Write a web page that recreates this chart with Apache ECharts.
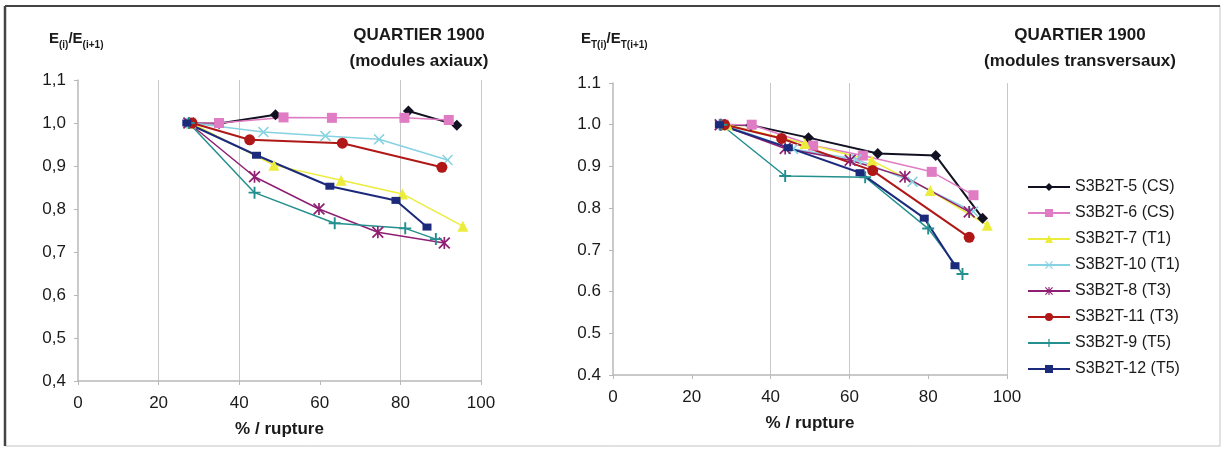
<!DOCTYPE html>
<html>
<head>
<meta charset="utf-8">
<script src="https://cdn.jsdelivr.net/npm/echarts@6/dist/echarts.min.js"></script>
<style>
  html, body { margin: 0; padding: 0; background: #fff; }
  #chart { width: 1223px; height: 449px; }
</style>
</head>
<body>
<div id="chart"></div>
<script>
// legend names, in Excel order
const names = ['S3B2T-5 (CS)', 'S3B2T-6 (CS)', 'S3B2T-7 (T1)', 'S3B2T-10 (T1)',
  'S3B2T-8 (T3)', 'S3B2T-11 (T3)', 'S3B2T-9 (T5)', 'S3B2T-12 (T5)'];
const xTicks = [0, 20, 40, 60, 80, 100];

// axial moduli (left), [% rupture, ratio]
const ax5 = [[28, 1.0], [35, 0.999], [49, 1.019], ['-', '-'], [82, 1.028], [94, 0.995]];
const ax6 = [[28, 1.0], [35, 1.0], [51, 1.013], [63, 1.012], [81, 1.012], [92, 1.007]];
const ax7 = [[28, 1.0], [48.6, 0.902], [65.3, 0.867], [80.5, 0.835], [95.5, 0.76]];
const ax10 = [[28, 1.0], [46, 0.979], [61.4, 0.97], [74.7, 0.962], [91.7, 0.914]];
const ax8 = [[27.5, 1.0], [43.8, 0.875], [59.8, 0.8], [74.4, 0.746], [90.9, 0.721]];
const ax11 = [[28.3, 1.0], [42.6, 0.961], [65.6, 0.953], [90.3, 0.897]];
const ax9 = [[27.5, 1.0], [43.8, 0.838], [63.7, 0.767], [81.2, 0.755], [88.8, 0.73]];
const ax12 = [[27, 1.0], [44.3, 0.925], [62.5, 0.853], [78.9, 0.82], [86.6, 0.758]];

// transverse moduli (right)
const tr5 = [[28, 1.0], [35, 0.999], [49.6, 0.969], [67.2, 0.931], [81.9, 0.926], [93.8, 0.776]];
const tr6 = [[28, 1.0], [35.2, 1.0], [50.8, 0.95], [63.4, 0.926], [80.9, 0.887], [91.5, 0.831]];
const tr7 = [[29, 1.0], [48.7, 0.955], [65.7, 0.914], [80.5, 0.842], [95, 0.759]];
const tr10 = [[28, 1.0], [45.7, 0.942], [61.8, 0.917], [76, 0.863], [91.4, 0.792]];
const tr8 = [[27.2, 1.0], [43.7, 0.943], [60.2, 0.915], [74.1, 0.875], [90.4, 0.791]];
const tr11 = [[28.3, 1.0], [42.8, 0.967], [65.9, 0.89], [90.4, 0.73]];
const tr9 = [[27.5, 1.0], [43.7, 0.877], [64, 0.874], [80, 0.751], [88.7, 0.642]];
const tr12 = [[27, 1.0], [44.5, 0.945], [62.7, 0.885], [79, 0.776], [86.8, 0.662]];

const axial = [ax5, ax6, ax7, ax10, ax8, ax11, ax9, ax12];
const transverse = [tr5, tr6, tr7, tr10, tr8, tr11, tr9, tr12];

const colors = ['#111122', '#e07cc4', '#ecec3c', '#86d2e2', '#8e1f72', '#b01818', '#23908f', '#1c2a7c'];
const xPath = 'path://M1,0L5,4L9,0L10,1L6,5L10,9L9,10L5,6L1,10L0,9L4,5L0,1Z';
const plusPath = 'path://M4.2,0H5.8V4.2H10V5.8H5.8V10H4.2V5.8H0V4.2H4.2Z';
const starPath = 'path://M1,0L5,4L9,0L10,1L6,5L10,9L9,10L5,6L1,10L0,9L4,5L0,1Z M4.3,0H5.7V10H4.3Z';
const symbols = ['diamond', 'rect', 'triangle', xPath, starPath, 'circle', plusPath, 'rect'];
const sizes = [11, 10, 11, 11, 12, 11, 12, [9, 7]];
const widths = [2, 1.5, 1.5, 1.5, 1.5, 2, 1.5, 2];

const font = '"Liberation Sans", Arial, sans-serif';
const txt = '#1a1a1a';
const grid = '#c8c8c8';

function makeSeries(list, idx) {
  return list.map((d, i) => ({
    name: names[i],
    type: 'line',
    xAxisIndex: idx,
    yAxisIndex: idx,
    data: d,
    symbol: symbols[i],
    symbolSize: sizes[i],
    showSymbol: true,
    connectNulls: false,
    animation: false,
    lineStyle: { color: colors[i], width: widths[i] },
    itemStyle: { color: colors[i], borderWidth: 0 },
    emphasis: { disabled: true }
  }));
}

function xAxis(idx, lineColors) {
  return {
    gridIndex: idx, type: 'value', min: 0, max: 100, interval: 20,
    name: '% / rupture', nameLocation: 'middle', nameGap: 40,
    nameTextStyle: { fontFamily: font, fontSize: 17, fontWeight: 'bold', color: txt },
    axisLine: { lineStyle: { color: '#b8b8b8', width: 1.5 } },
    axisTick: { show: true, length: 4, lineStyle: { color: '#b8b8b8' } },
    axisLabel: { fontFamily: font, fontSize: 17, color: txt, margin: 14 },
    splitLine: { show: true, lineStyle: { color: lineColors, width: 1 } }
  };
}

function yAxis(idx, sep) {
  return {
    gridIndex: idx, type: 'value', min: 0.4, max: 1.1, interval: 0.1,
    axisLine: { show: true, lineStyle: { color: '#b8b8b8', width: 1.5 } },
    axisTick: { show: true, length: 4, lineStyle: { color: '#b8b8b8' } },
    axisLabel: {
      fontFamily: font, fontSize: 17, color: txt, margin: 12,
      formatter: v => v.toFixed(1).replace('.', sep)
    },
    splitLine: { show: false }
  };
}

const ratioRich = {
  e: { fontFamily: font, fontSize: 15, fontWeight: 'bold', color: txt, lineHeight: 18, verticalAlign: 'top' },
  s: { fontFamily: font, fontSize: 10, fontWeight: 'bold', color: txt, lineHeight: 10, padding: [9, 0, 0, 0], verticalAlign: 'top' }
};
const headStyle = { fontFamily: font, fontSize: 17, fontWeight: 'bold', color: txt, lineHeight: 26 };

const chart = echarts.init(document.getElementById('chart'));
chart.setOption({
  backgroundColor: '#fff',
  animation: false,
  title: [
    { text: '{e|E}{s|(i)}{e|/E}{s|(i+1)}', left: 44, top: 26, textStyle: { rich: ratioRich } },
    { text: '{e|E}{s|T(i)}{e|/E}{s|T(i+1)}', left: 576, top: 26, textStyle: { rich: ratioRich } },
    { text: 'QUARTIER 1900\n(modules axiaux)', left: 414, top: 17, textAlign: 'center', textStyle: headStyle },
    { text: 'QUARTIER 1900\n(modules transversaux)', left: 1075, top: 17, textAlign: 'center', textStyle: headStyle }
  ],
  legend: {
    data: names, orient: 'vertical', left: 1022, top: 174,
    itemWidth: 42, itemHeight: 10, itemGap: 10,
    textStyle: { fontFamily: font, fontSize: 16, color: txt, lineHeight: 16 },
    selectedMode: false
  },
  grid: [
    { left: 78, right: 1223 - 481, top: 80, bottom: 68 },
    { left: 613, right: 1223 - 1007, top: 83, bottom: 74 }
  ],
  xAxis: [
    xAxis(0, ['transparent', grid, grid, 'transparent', grid, grid]),
    xAxis(1, ['transparent', 'transparent', grid, grid, 'transparent', grid])
  ],
  yAxis: [yAxis(0, ','), yAxis(1, '.')],
  series: makeSeries(axial, 0).concat(makeSeries(transverse, 1)),
  graphic: [
    { type: 'rect', shape: { x: 5, y: 6, width: 1215, height: 440 }, style: { fill: 'none', stroke: '#c4c4c4', lineWidth: 1 }, silent: true },
    { type: 'line', shape: { x1: 5, y1: 6, x2: 1220, y2: 6 }, style: { stroke: '#444', lineWidth: 2 }, silent: true },
    { type: 'line', shape: { x1: 5, y1: 6, x2: 5, y2: 446 }, style: { stroke: '#444', lineWidth: 2.5 }, silent: true }
  ]
});
</script>
</body>
</html>
